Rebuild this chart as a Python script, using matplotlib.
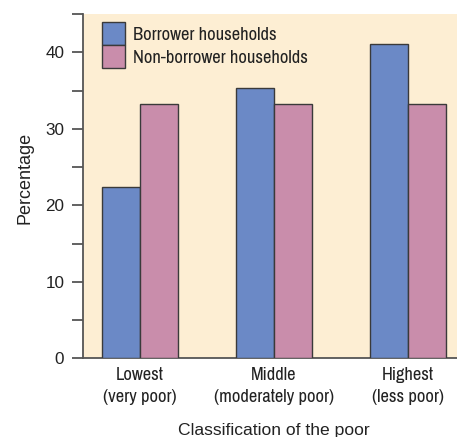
import matplotlib
matplotlib.use("Agg")
import matplotlib.pyplot as plt
import numpy as np
from matplotlib.patches import Patch

categories = ["Lowest\n(very poor)", "Middle\n(moderately poor)", "Highest\n(less poor)"]
borrower = [22.4, 35.3, 41.1]
non_borrower = [33.2, 33.2, 33.2]
series_names = ["Borrower households", "Non-borrower households"]

blue = "#6b89c6"
pink = "#c98dab"
bg = "#fdeed3"
edge = "#3a3a3a"
spine_c = "#555555"
txt = "#222222"

regular = ["Liberation Sans", "DejaVu Sans"]
narrow = ["Archivo Narrow", "Liberation Sans", "DejaVu Sans"]

W, H = 457, 437
ax_l, ax_r, ax_t, ax_b = 82.7, 457.0, 14.0, 358.3

fig = plt.figure(figsize=(W / 100, H / 100), dpi=100)
ax = fig.add_axes([ax_l / W, (H - ax_b) / H, (ax_r - ax_l) / W, (ax_b - ax_t) / H])
ax.set_facecolor(bg)

x = np.arange(len(categories))
w = 0.284
ax.bar(x - w / 2, borrower, w, color=blue, edgecolor=edge, linewidth=1.0, zorder=3)
ax.bar(x + w / 2, non_borrower, w, color=pink, edgecolor=edge, linewidth=1.0, zorder=3)

ax.set_xlim(-0.428, 2.368)
ax.set_ylim(0, 45)

for s in ["top", "right"]:
    ax.spines[s].set_visible(False)
for s in ["left", "bottom"]:
    ax.spines[s].set_color(spine_c)
    ax.spines[s].set_linewidth(1.3)

ax.set_yticks(np.arange(0, 46, 5))
ax.set_yticklabels(["0", "", "10", "", "20", "", "30", "", "40", ""])
ax.tick_params(axis="y", length=8.2, width=1.3, color=spine_c, pad=5,
               labelsize=12.3, labelcolor=txt)
for t in ax.get_yticklabels():
    t.set_family(regular)

ax.set_xticks(x)
ax.set_xticklabels(categories, family=narrow, fontsize=13.3, color=txt,
                   linespacing=1.45)
ax.tick_params(axis="x", length=0, pad=6.5)

fig.text(25 / W, 1 - 178 / H, "Percentage", rotation=90, ha="center",
         va="center", family=regular, fontsize=13, color=txt)
fig.text(274 / W, 1 - 430 / H, "Classification of the poor", ha="center",
         va="center", family=regular, fontsize=12.6, color=txt)

handles = [Patch(facecolor=blue, edgecolor=edge, linewidth=1.0),
           Patch(facecolor=pink, edgecolor=edge, linewidth=1.0)]
fs_leg = 13.3
em = fs_leg / 72 * 100
hh = (23 / em - 0.245) / 0.65
axw, axh = ax_r - ax_l, ax_b - ax_t
leg = ax.legend(handles, series_names, loc="upper left",
                bbox_to_anchor=(19.3 / axw, 1 - 8 / axh), frameon=False,
                prop={"family": narrow, "size": fs_leg},
                handlelength=23 / em, handleheight=hh, labelspacing=0.0,
                handletextpad=8 / em, borderaxespad=0.0, borderpad=0.0)
for t in leg.get_texts():
    t.set_color(txt)

fig.savefig("out.png", dpi=100)
